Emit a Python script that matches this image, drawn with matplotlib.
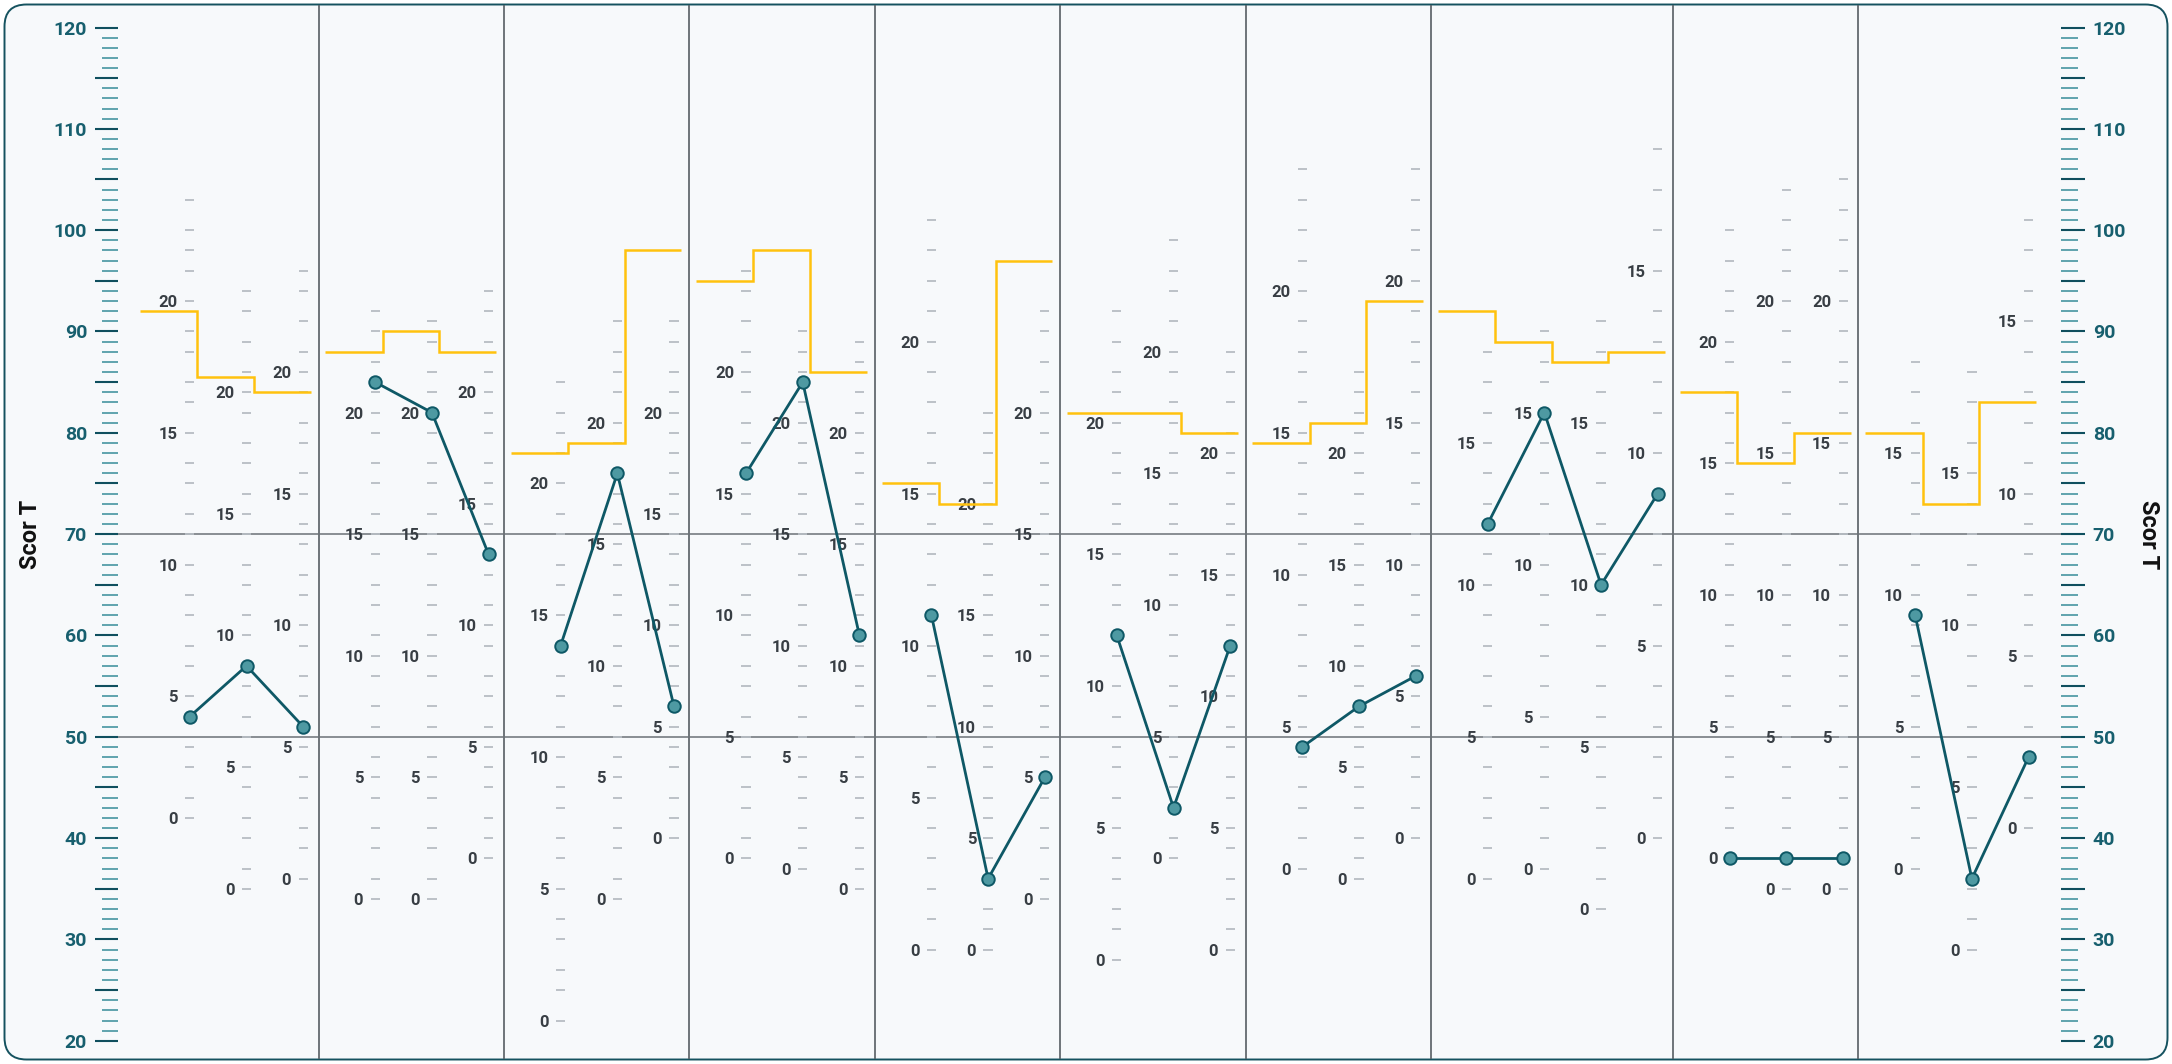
import numpy as np
import matplotlib.pyplot as plt
from matplotlib.patches import FancyBboxPatch

plt.rcParams['font.family'] = ['Roboto', 'DejaVu Sans']

# ---- data ---------------------------------------------------------------
panel_sizes = [3, 3, 3, 3, 3, 3, 3, 4, 3, 3]

# T score at raw 0, 5, 10, 15, 20 for every sub-scale, left to right
scale_t5 = [
    [42, 54, 67, 80, 93], [35, 47, 60, 72, 84], [36, 49, 61, 74, 86],
    [34, 46, 58, 70, 82], [34, 46, 58, 70, 82], [38, 49, 61, 73, 84],
    [22, 35, 48, 62, 75], [34, 46, 57, 69, 81], [40, 51, 61, 72, 82],
    [38, 50, 62, 74, 86], [37, 48, 59, 70, 81], [35, 46, 57, 69, 80],
    [29, 44, 59, 74, 89], [29, 40, 51, 62, 73], [34, 46, 58, 70, 82],
    [28, 41, 55, 68, 81], [38, 50, 63, 76, 88], [29, 41, 54, 66, 78],
    [37, 51, 66, 80, 94], [36, 47, 57, 67, 78], [40, 54, 67, 81, 95],
    [36, 50, 65, 79], [37, 52, 67, 82], [33, 49, 65, 81], [40, 59, 78, 96],
    [38, 51, 64, 77, 89], [35, 50, 64, 78, 93], [35, 50, 64, 79, 93],
    [37, 51, 64, 78], [29, 45, 61, 76], [41, 58, 74, 91],
]
scale_max_raw = [24] * 21 + [18] * 4 + [24] * 3 + [18] * 3
scale_max_t = [103, 94, 96, 92, 91, 94, 85, 91, 91, 96, 90, 89, 101, 82, 92,
               92, 99, 88, 106, 86, 106, 88, 90, 91, 108, 100, 104, 105,
               87, 86, 101]

patient_t = [[52, 57, 51], [85, 82, 68], [59, 76, 53], [76, 85, 60],
             [62, 36, 46], [60, 43, 59], [49, 53, 56], [71, 82, 65, 74],
             [38, 38, 38], [62, 36, 48]]
reference_t = [[92, 85.5, 84], [88, 90, 88], [78, 79, 98], [95, 98, 86],
               [75, 73, 97], [82, 82, 80], [79, 81, 93], [92, 89, 87, 88],
               [84, 77, 80], [80, 73, 83]]

# ---- layout -------------------------------------------------------------
W, H, DPI = 2172, 1064, 100
SLOT = 56.7        # px between two sub-scales
X0 = 133.1         # px, left edge of the first panel
GAP = 0.27         # extra width of a panel, in slots
PX_PER_T = 10.133
Y120 = 27.5        # px from top where T = 120

TEAL = '#0e5866'
GRID = '#6b7177'


def xs(px):
    return (px - X0) / SLOT


def ts(py):
    return 120 - (py - Y120) / PX_PER_T


fig = plt.figure(figsize=(W / DPI, H / DPI), dpi=DPI)
fig.patches.append(FancyBboxPatch(
    (4.5 / DPI, 4.5 / DPI), (W - 9) / DPI, (H - 9) / DPI,
    boxstyle='round,pad=0,rounding_size=0.22', transform=fig.dpi_scale_trans,
    fc='#f7f9fb', ec='#15525f', lw=1.4, zorder=-1))

ax = fig.add_axes([0, 0, 1, 1])
ax.set_xlim(xs(0), xs(W))
ax.set_ylim(ts(H), ts(0))
ax.axis('off')

# panel positions
lefts = []
pos = 0.0
for n in panel_sizes:
    lefts.append(pos)
    pos += n + GAP

# dividers and reference lines
ax.vlines(lefts[1:], ts(H - 5), ts(5), color='#575d63', lw=1.2, zorder=1)
ax.hlines([70, 50], xs(118.3), xs(2060.7), color=GRID, lw=1.1, zorder=1)

# T axes on both sides
t_all = np.arange(20, 121)
major = t_all[t_all % 5 == 0]
minor = t_all[t_all % 5 != 0]
for x_in, x_maj, x_min in [(xs(118.3), xs(95), xs(101.7)),
                           (xs(2060.7), xs(2085), xs(2077.7))]:
    ax.hlines(minor, min(x_in, x_min), max(x_in, x_min), color='#5fa3ad', lw=1.4, zorder=2)
    ax.hlines(major, min(x_in, x_maj), max(x_in, x_maj), color='#0f4f5e', lw=1.5, zorder=2)
for t in t_all[t_all % 10 == 0]:
    ax.text(xs(87), t, str(t), ha='right', va='center_baseline', fontsize=14,
            fontweight='bold', color='#175f6e')
    ax.text(xs(2092.7), t, str(t), ha='left', va='center_baseline', fontsize=14,
            fontweight='bold', color='#175f6e')
ax.text(xs(31), 70, 'Scor T', rotation=90, ha='center', va='center',
        fontsize=17, fontweight='bold', color='#111111')
ax.text(xs(2148), 70, 'Scor T', rotation=270, ha='center', va='center',
        fontsize=17, fontweight='bold', color='#111111')

# sub-scales, profile line and reference steps
half = 4.65 / SLOT
lab_off = 12 / SLOT
i = 0
for p, n in enumerate(panel_sizes):
    px_list = [lefts[p] + 1 + k for k in range(n)]
    for x in px_list:
        top = scale_max_raw[i]
        anchor_r = [5 * k for k in range(len(scale_t5[i]))] + [top]
        anchor_t = scale_t5[i] + [scale_max_t[i]]
        raws = np.arange(0, top + 1)
        tvals = np.round(np.interp(raws, anchor_r, anchor_t))
        ax.hlines(tvals, x - half, x + half, color='#b7bdc3', lw=1.3, zorder=3)
        for r, t in zip(anchor_r[:-1], scale_t5[i]):
            ax.text(x - lab_off, t, str(r), ha='right', va='center_baseline',
                    fontsize=12, fontweight='bold', color='#383e44', zorder=2)
        i += 1

    edges = [px_list[0] - 0.88] + [x + 0.13 for x in px_list]
    ax.stairs(reference_t[p], edges, baseline=None, color='#ffc20e', lw=1.8, zorder=4)
    ax.plot(px_list, patient_t[p], color=TEAL, lw=2.0, marker='o', ms=9,
            mfc='#4e99a2', mec=TEAL, mew=1.4, zorder=5)

fig.savefig('out.png', dpi=DPI, facecolor='white')
